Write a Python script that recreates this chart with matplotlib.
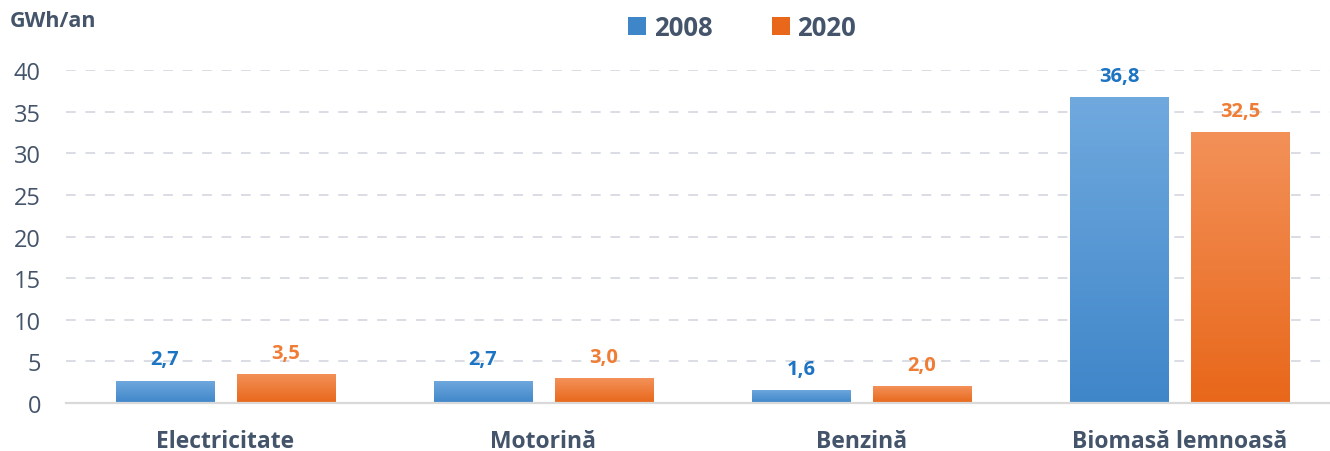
import numpy as np
import matplotlib.pyplot as plt
from matplotlib.colors import LinearSegmentedColormap
from matplotlib.patches import Rectangle

categories = ["Electricitate", "Motorină", "Benzină", "Biomasă lemnoasă"]
years = ["2008", "2020"]
values_2008 = [2.7, 2.7, 1.6, 36.8]
values_2020 = [3.5, 3.0, 2.0, 32.5]
y_ticks = [0, 5, 10, 15, 20, 25, 30, 35, 40]
unit_label = "GWh/an"

plt.rcParams['font.family'] = ['Open Sans', 'DejaVu Sans']
text_col = "#44546a"

# gradient endpoints (top, bottom) for each series
grad = {
    "2008": ("#70a9de", "#3f86c9"),
    "2020": ("#f39159", "#e8671a"),
}
label_col = {"2008": "#1d74c2", "2020": "#ef7d35"}

fig = plt.figure(figsize=(13.3, 4.52), dpi=100)
ax = fig.add_axes([0.0496, 0.106, 0.957, 0.737])

x = np.arange(len(categories))
width = 0.308
offset = 0.19

def gradient_bars(xs, vals, key):
    bars = ax.bar(xs, vals, width=width, color=grad[key][1], zorder=3,
                  edgecolor="none")
    cmap = LinearSegmentedColormap.from_list(key, [grad[key][1], grad[key][0]])
    g = np.linspace(0, 1, 256).reshape(-1, 1)
    for b in bars:
        x0, y0 = b.get_x(), b.get_y()
        w, h = b.get_width(), b.get_height()
        im = ax.imshow(g, cmap=cmap, origin="lower", aspect="auto",
                       extent=[x0, x0 + w, y0, y0 + h], zorder=3.5)
        im.set_clip_path(b)
    for xi, v in zip(xs, vals):
        ax.annotate(f"{v:.1f}".replace(".", ","), (xi, v),
                    xytext=(0, 8), textcoords="offset points",
                    ha="center", va="bottom", fontsize=14.5,
                    fontweight="bold", color=label_col[key], zorder=5)
    return bars

gradient_bars(x - offset, values_2008, "2008")
gradient_bars(x + offset, values_2020, "2020")

ax.set_xlim(-0.5, 3.5)
ax.set_ylim(0, 40)
ax.set_yticks(y_ticks)
ax.set_yticklabels([str(t) for t in y_ticks], fontsize=17, color=text_col)
ax.set_xticks(x)
ax.set_xticklabels(categories, fontsize=16.5, fontweight="bold", color=text_col)
ax.tick_params(axis="both", length=0)
ax.tick_params(axis="x", pad=19)
ax.tick_params(axis="y", pad=18)

for s in ["top", "right", "left"]:
    ax.spines[s].set_visible(False)
ax.spines["bottom"].set_color("#d9d9d9")
ax.spines["bottom"].set_linewidth(1.6)
ax.spines["bottom"].set_zorder(4)

ax.yaxis.grid(True, linestyle=(0, (5, 5)), color="#d9dde3", linewidth=1.4,
              zorder=0)
ax.set_axisbelow(True)
# hide the gridline at zero (axis line takes its place)
ax.get_ygridlines()[0].set_visible(False)

fig.text(0.007, 0.952, unit_label, fontsize=15.5, fontweight="bold",
         color=text_col, ha="left", va="center")

handles = [Rectangle((0, 0), 1, 1, facecolor=grad[k][1], edgecolor="none")
           for k in years]
leg = fig.legend(handles, years, loc="center", bbox_to_anchor=(0.558, 0.937),
                 ncol=2, frameon=False, handlelength=0.7, handleheight=0.7,
                 handletextpad=0.3, columnspacing=2.3,
                 prop={"size": 18.5, "weight": "bold"})
for t in leg.get_texts():
    t.set_color(text_col)

fig.savefig("out.png", dpi=100)
